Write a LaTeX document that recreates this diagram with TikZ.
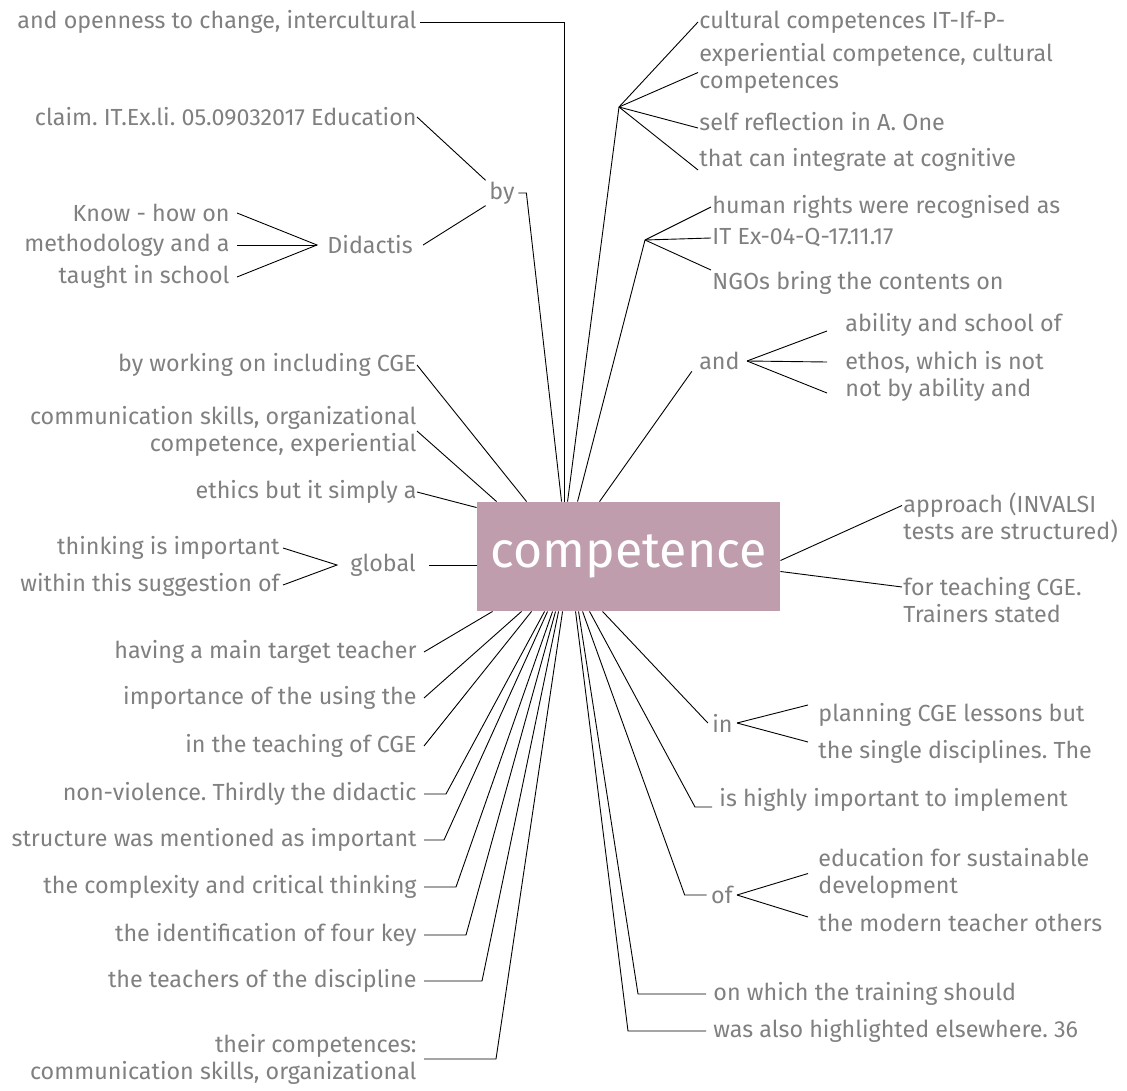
\documentclass[tikz,border=0pt]{standalone}
\usepackage{fontspec}
\setmainfont{Fira Sans}
\definecolor{boxpink}{HTML}{C09DAD}
\definecolor{txtgray}{HTML}{808080}
\frenchspacing

\begin{document}
\begin{tikzpicture}[x=1pt,y=-1pt,line width=0.9pt,
	every node/.style={text=txtgray,font=\fontsize{23.3}{27}\selectfont,inner ysep=1pt},
	lleaf/.style={anchor=east,align=right,inner xsep=7pt},
	rleaf/.style={anchor=west,align=left,inner xsep=1pt},
	hub/.style={fill=boxpink,text=white,font=\fontsize{50}{52}\selectfont,minimum width=303pt,minimum height=109pt,inner sep=0pt}]
		\useasboundingbox (0,0) rectangle (1127,1091);
		\node[hub] (box) at (628.5,556.5) {competence};
		
		\node[lleaf,inner xsep=3pt] (openness) at (420,22) {and openness to change, intercultural};
		\node[lleaf,inner xsep=0pt] (claim) at (417,117) {claim. IT.Ex.li. 05.09032017 Education};
		\node (by) at (502,193) {by};
		\node[anchor=west,inner xsep=10pt] (didactis) at (317,245) {Didactis};
		\node[lleaf] (knowhow) at (237,213) {Know - how on};
		\node[lleaf] (method) at (237,245) {methodology and a};
		\node[lleaf] (taught) at (237,277) {taught in school};
		\node[lleaf,inner xsep=0pt] (working) at (417,365) {by working on including CGE};
		\node[lleaf,inner xsep=0pt] (commskills) at (417,431) {communication skills, organizational\\competence, experiential};
		\node[lleaf,inner xsep=0pt] (ethics) at (417,492) {ethics but it simply a};
		\node[lleaf,inner xsep=3pt] (thinking) at (283,548) {thinking is important};
		\node[lleaf,inner xsep=3pt] (within) at (283,585) {within this suggestion of};
		\node[anchor=west,inner xsep=13pt] (global) at (337,565) {global};
		
		\node[lleaf] (having) at (424,652) {having a main target teacher};
		\node[lleaf] (importance) at (424,698) {importance of the using the};
		\node[lleaf] (teaching) at (424,746) {in the teaching of CGE};
		\node[lleaf] (nonviol) at (424,794) {non-violence. Thirdly the didactic};
		\node[lleaf] (structure) at (424,840) {structure was mentioned as important};
		\node[lleaf] (complexity) at (424,887) {the complexity and critical thinking};
		\node[lleaf] (identif) at (424,935) {the identification of four key};
		\node[lleaf] (teachers) at (424,981) {the teachers of the discipline};
		\node[lleaf] (their) at (424,1059) {their competences:\\communication skills, organizational};
		
		\node[rleaf] (cultural) at (698,22) {cultural competences IT-If-P-};
		\node[rleaf] (exper) at (698,68.5) {experiential competence, cultural\\competences};
		\node[rleaf] (selfrefl) at (698,122) {self reflection in A. One};
		\node[rleaf] (integrate) at (698,160) {that can integrate at cognitive};
		\node[rleaf] (human) at (711,207) {human rights were recognised as};
		\node[rleaf] (itex) at (711,238) {IT Ex-04-Q-17.11.17};
		\node[rleaf] (ngos) at (711,283) {NGOs bring the contents on};
		\node[anchor=east,inner xsep=7pt] (and) at (747,361) {and};
		\node[rleaf,inner xsep=18pt] (ability) at (827,325) {ability and school of};
		\node[rleaf,inner xsep=18pt] (ethos) at (827,362) {ethos, which is not};
		\node[rleaf,inner xsep=18pt] (notby) at (827,390) {not by ability and};
		\node[rleaf] (approach) at (902,517.5) {approach (INVALSI\\tests are structured)};
		\node[rleaf] (fortrain) at (902,600) {for teaching CGE.\\Trainers stated};
		\node[anchor=east,inner xsep=4pt] (in) at (737,723) {in};
		\node[rleaf,inner xsep=10pt] (planning) at (808,715) {planning CGE lessons but};
		\node[rleaf,inner xsep=10pt] (single) at (808,752) {the single disciplines. The};
		\node[rleaf,inner xsep=7pt] (highly) at (712,800) {is highly important to implement};
		\node[anchor=east,inner xsep=4pt] (of) at (737,895) {of};
		\node[rleaf,inner xsep=10pt] (education) at (808,873.5) {education for sustainable\\development};
		\node[rleaf,inner xsep=10pt] (modern) at (808,923) {the modern teacher others};
		\node[rleaf,inner xsep=7pt] (onwhich) at (706,994) {on which the training should};
		\node[rleaf,inner xsep=7pt] (wasalso) at (706,1031) {was also highlighted elsewhere. 36};
		
		\coordinate (cultjoin) at (619,107);
		\coordinate (humjoin) at (645,240);
		
		\draw (openness.east) -| ([xshift=88pt]box.north west);
		\draw (claim.east) -- (by.north west);
		\draw (didactis.east) -- (by.south west);
		\draw (by.east) -- ++(8,0) -- ([xshift=85pt]box.north west);
		\draw (knowhow.east) -- (didactis.west) -- (taught.east);
		\draw (method.east) -- (didactis.west);
		\draw (thinking.east) -- (global.west) -- (within.east);
		\draw (global.east) -- (global.east -| box.west);
		\draw (working.east) -- ([xshift=50pt]box.north west);
		\draw (commskills.east) -- ([xshift=20pt]box.north west);
		\draw (ethics.east) -- ([yshift=-6pt]box.north west);
		
		\draw (having.east) -- ([xshift=16pt]box.south west);
		\draw (importance.east) -- ([xshift=45pt]box.south west);
		\draw (teaching.east) -- ([xshift=55pt]box.south west);
		\draw (nonviol.east) -- ([xshift=22pt]nonviol.east) -- ([xshift=68pt]box.south west);
		\draw (structure.east) -- ([xshift=20pt]structure.east) -- ([xshift=71pt]box.south west);
		\draw (complexity.east) -- ([xshift=32pt]complexity.east) -- ([xshift=76pt]box.south west);
		\draw (identif.east) -- ([xshift=42pt]identif.east) -- ([xshift=79pt]box.south west);
		\draw (teachers.east) -- ([xshift=58pt]teachers.east) -- ([xshift=82pt]box.south west);
		\draw (their.east) -- ([xshift=72pt]their.east) -- ([xshift=86pt]box.south west);
		
		\draw ([xshift=91pt]box.north west) -- (cultjoin);
		\draw (cultjoin) -- (cultural.west);
		\draw (cultjoin) -- ([yshift=-4pt]exper.west);
		\draw (cultjoin) -- ([yshift=-6pt]selfrefl.west);
		\draw (cultjoin) -- ([yshift=-10pt]integrate.west);
		\draw ([xshift=101pt]box.north west) -- (humjoin);
		\draw (humjoin) -- (human.west);
		\draw (humjoin) -- (itex.west);
		\draw (humjoin) -- ([yshift=13pt]ngos.west);
		\draw ([xshift=123pt]box.north west) -- (and.south west);
		\draw (and.east) -- ([yshift=-6pt]ability.west);
		\draw (and.east) -- (ethos.west);
		\draw (and.east) -- ([yshift=-3pt]notby.west);
		
		\draw ([yshift=-4pt]box.east) -- ([yshift=12pt]approach.west);
		\draw ([yshift=-15pt]box.east) -- ([yshift=13pt]fortrain.west);
		
		\draw ([xshift=126pt]box.south west) -- (in.west);
		\draw (in.east) -- ([yshift=10pt]planning.west);
		\draw (in.east) -- ([yshift=10pt]single.west);
		\draw ([xshift=113pt]box.south west) -- ([xshift=-17pt,yshift=-7pt]highly.west) -- ([yshift=-7pt]highly.west);
		\draw ([xshift=106pt]box.south west) -- ([xshift=-22pt]of.west) -- (of.west);
		\draw (of.east) -- (education.west);
		\draw (of.east) -- ([yshift=6pt]modern.west);
		\draw ([xshift=102pt]box.south west) -- ([xshift=-68pt]onwhich.west) -- (onwhich.west);
		\draw ([xshift=99pt]box.south west) -- ([xshift=-78pt]wasalso.west) -- (wasalso.west);
		
		\end{tikzpicture}
\end{document}
